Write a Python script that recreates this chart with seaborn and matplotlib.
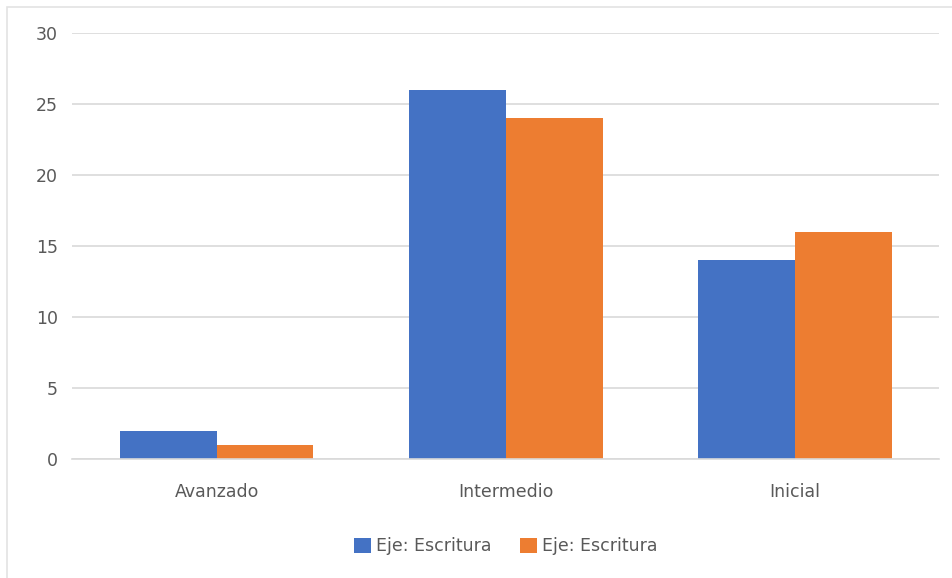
import pandas as pd
import seaborn as sns
from matplotlib import pyplot as plt
from matplotlib.patches import Rectangle

# data
categories = ['Avanzado', 'Intermedio', 'Inicial']
serie_1 = [2, 26, 14]
serie_2 = [1, 24, 16]
series_labels = ['Eje: Escritura', 'Eje: Escritura']
y_ticks = [0, 5, 10, 15, 20, 25, 30]

df = pd.DataFrame({
    'nivel': categories * 2,
    'valor': serie_1 + serie_2,
    'serie': ['s1'] * len(categories) + ['s2'] * len(categories),
})

sns.set_style('white')
plt.rcParams['font.family'] = ['DejaVu Sans']

fig = plt.figure(figsize=(9.53, 5.78), dpi=100)
ax = fig.add_axes([0.0756, 0.206, 0.910, 0.737])

sns.barplot(data=df, x='nivel', y='valor', hue='serie', order=categories,
            palette=['#4472C4', '#ED7D31'], width=0.67, gap=0,
            saturation=1, linewidth=0, ax=ax, legend=True)

ax.set_ylim(0, 30)
ax.set_yticks(y_ticks)
ax.set_xlim(-0.5, 2.5)
ax.yaxis.grid(True, color='#D9D9D9', linewidth=1.2)
ax.set_axisbelow(True)
for s in ax.spines.values():
    s.set_visible(False)
ax.spines['bottom'].set_visible(True)
ax.spines['bottom'].set_color('#D9D9D9')
ax.spines['bottom'].set_linewidth(1.2)
ax.tick_params(axis='both', length=0, labelsize=12.5, colors='#595959')
ax.tick_params(axis='x', pad=17)
ax.tick_params(axis='y', pad=10)
ax.set_xlabel('')
ax.set_ylabel('')

handles, _ = ax.get_legend_handles_labels()
ax.legend(handles, series_labels, loc='center', bbox_to_anchor=(0.5, -0.205),
          ncol=2, frameon=False, fontsize=12.5, labelcolor='#595959',
          handlelength=1.0, handleheight=1.0, handletextpad=0.3, columnspacing=1.6)

# chart frame like the office chart border
fig.patches.append(Rectangle((7 / 953, -0.01), 1.0, 1 - 7 / 578 + 0.01,
                             transform=fig.transFigure, fill=False,
                             edgecolor='#E3E3E3', linewidth=1.2))

plt.savefig('out.png', dpi=100)
plt.close()
